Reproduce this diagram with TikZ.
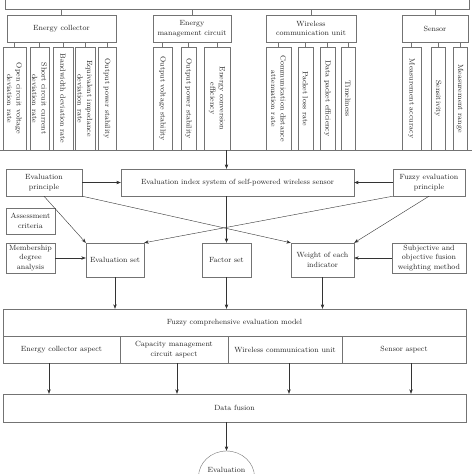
\documentclass[tikz,border=0pt]{standalone}
\usetikzlibrary{arrows.meta,shapes.geometric}
\begin{document}
\begin{tikzpicture}[x=1pt,y=-1pt,
    font=\fontsize{7.5}{9.5}\selectfont,
    sz/.style n args={2}{minimum width=#1pt,minimum height=#2pt},
    box/.style={draw=black!55,inner sep=1pt,align=center,text=black!85},
    vbox/.style={box,rotate=-90},
    link/.style={draw=black!55},
    arr/.style={draw=black!80,-{Stealth[length=4.5pt,width=3.4pt]}}]
  \useasboundingbox (0,0) rectangle (474,474);
  \clip (0,0) rectangle (474,474);
  \fill[white] (0,0) rectangle (474,474);
  \node[box,sz={464}{28}] (top) at (237,-5) {};
  \node[box,sz={109}{27}] (ec) at (61.5,28.5) {Energy collector};
  \node[box,sz={78}{27}] (emc) at (192,28.5) {Energy\\management circuit};
  \node[box,sz={90}{27}] (wcu) at (311,28.5) {Wireless\\communication unit};
  \node[box,sz={66}{27}] (sen) at (435,28.5) {Sensor};
  \node[vbox,sz={103}{23}] (ec1) at (14.5,98.5) {Open circuit voltage\\deviation rate};
  \node[vbox,sz={103}{19}] (ec2) at (39.5,98.5) {Short circuit current\\deviation rate};
  \node[vbox,sz={103}{20}] (ec3) at (63,98.5) {Bandwidth deviation rate};
  \node[vbox,sz={103}{20}] (ec4) at (85,98.5) {Equivalent impedance\\deviation rate};
  \node[vbox,sz={103}{18}] (ec5) at (107,98.5) {Output power stability};
  \node[vbox,sz={103}{19}] (emc1) at (162.5,98.5) {Output voltage stability};
  \node[vbox,sz={103}{15}] (emc2) at (188.5,98.5) {Output power stability};
  \node[vbox,sz={103}{26}] (emc3) at (217,98.5) {Energy conversion\\efficiency};
  \node[vbox,sz={103}{25}] (wcu1) at (278.5,98.5) {Communication distance\\attenuation rate};
  \node[vbox,sz={103}{15}] (wcu2) at (305.5,98.5) {Packet loss rate};
  \node[vbox,sz={103}{15}] (wcu3) at (327.5,98.5) {Data packet efficiency};
  \node[vbox,sz={103}{14}] (wcu4) at (348,98.5) {Timeliness};
  \node[vbox,sz={103}{19}] (sen1) at (411.5,98.5) {Measurement accuracy};
  \node[vbox,sz={103}{14}] (sen2) at (438,98.5) {Sensitivity};
  \node[vbox,sz={103}{14}] (sen3) at (460,98.5) {Measurement range};
  \coordinate (l) at (0,150);
  \coordinate (r) at (472,150);
  \node[box,sz={76}{27}] (ep) at (44,182.5) {Evaluation\\principle};
  \node[box,sz={233}{27}] (eis) at (237.5,182.5) {Evaluation index system of self-powered wireless sensor};
  \node[box,sz={72}{27}] (fep) at (429,182.5) {Fuzzy evaluation\\principle};
  \node[box,sz={49}{26}] (ac) at (30.5,221) {Assessment\\criteria};
  \node[box,sz={49}{30}] (mda) at (30.5,258) {Membership\\degree\\analysis};
  \node[box,sz={58}{34}] (es) at (115,260) {Evaluation set};
  \node[box,sz={49}{34}] (fs) at (226.5,260) {Factor set};
  \node[box,sz={63}{34}] (wei) at (322.5,260) {Weight of each\\indicator};
  \node[box,sz={74}{30}] (sof) at (429,258) {Subjective and\\objective fusion\\weighting method};
  \node[box,sz={463}{27}] (fcm) at (234.5,322.5) {Fuzzy comprehensive evaluation model};
  \node[box,sz={117}{27}] (fa1) at (61.5,349.5) {Energy collector aspect};
  \node[box,sz={108}{27}] (fa2) at (174,349.5) {Capacity management\\circuit aspect};
  \node[box,sz={114}{27}] (fa3) at (285,349.5) {Wireless communication unit};
  \node[box,sz={124}{27}] (fa4) at (404,349.5) {Sensor aspect};
  \node[box,sz={463}{28}] (df) at (234.5,408) {Data fusion};
  \node[box,ellipse,sz={56}{52},text height=6pt,text depth=16pt] (ev) at (226.5,477) {Evaluation};
  \begin{scope}[link]
    \draw (ec.north) -- (ec.north |- top.south);
    \draw (emc.north) -- (emc.north |- top.south);
    \draw (wcu.north) -- (wcu.north |- top.south);
    \draw (sen.north) -- (sen.north |- top.south);
    \draw (ec1.west) -- (ec1.west |- ec.south);
    \draw (ec2.west) -- (ec2.west |- ec.south);
    \draw (ec3.west) -- (ec3.west |- ec.south);
    \draw (ec4.west) -- (ec4.west |- ec.south);
    \draw (ec5.west) -- (ec5.west |- ec.south);
    \draw (emc1.west) -- (emc1.west |- emc.south);
    \draw (emc2.west) -- (emc2.west |- emc.south);
    \draw (emc3.west) -- (emc3.west |- emc.south);
    \draw (wcu1.west) -- (wcu1.west |- wcu.south);
    \draw (wcu2.west) -- (wcu2.west |- wcu.south);
    \draw (wcu3.west) -- (wcu3.west |- wcu.south);
    \draw (wcu4.west) -- (wcu4.west |- wcu.south);
    \draw (sen1.west) -- (sen1.west |- sen.south);
    \draw (sen2.west) -- (sen2.west |- sen.south);
    \draw (sen3.west) -- (sen3.west |- sen.south);
    \draw (l) -- (r);
  \end{scope}
  \begin{scope}[arr]
    \draw (fs |- l) -- (fs |- eis.north);
    \draw (ep.east) -- (eis.west);
    \draw (fep.west) -- (eis.east);
    \draw (fs |- eis.south) -- (fs.north);
    \draw (ep.south) -- (es.north west);
    \draw (ep.south east) -- (wei.north west);
    \draw (fep.south west) -- (es.north east);
    \draw (fep.south) -- (wei.north east);
    \draw (mda.east) -- (mda.east -| es.west);
    \draw (sof.west) -- (sof.west -| wei.east);
    \draw (es.south) -- (es.south |- fcm.north);
    \draw (fs.south) -- (fs.south |- fcm.north);
    \draw (wei.south) -- (wei.south |- fcm.north);
    \draw ([xshift=-12.5pt]fa1.south) -- ([xshift=-12.5pt]fa1.south |- df.north);
    \draw ([xshift=3pt]fa2.south) -- ([xshift=3pt]fa2.south |- df.north);
    \draw ([xshift=4pt]fa3.south) -- ([xshift=4pt]fa3.south |- df.north);
    \draw ([xshift=7pt]fa4.south) -- ([xshift=7pt]fa4.south |- df.north);
    \draw (df.south -| ev) -- (ev.north);
  \end{scope}
\end{tikzpicture}
\end{document}
